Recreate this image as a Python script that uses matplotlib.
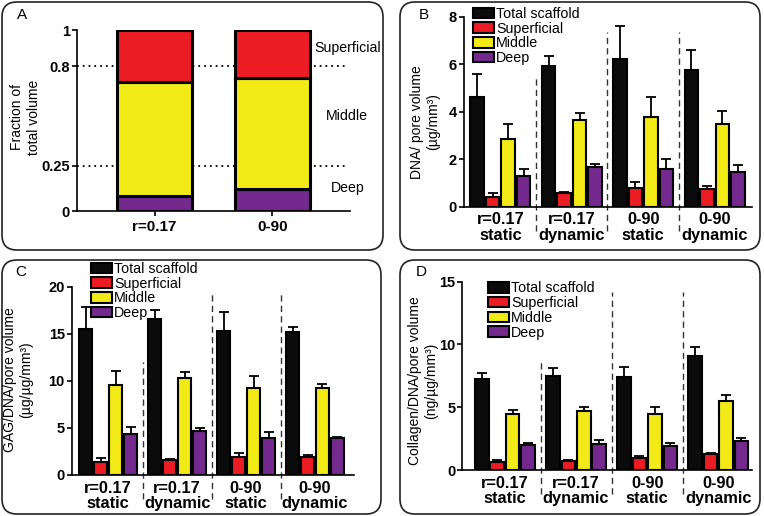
import numpy as np
import matplotlib.pyplot as plt
from matplotlib.patches import FancyBboxPatch
from matplotlib.transforms import blended_transform_factory

plt.rcParams['font.family'] = ['Liberation Sans', 'DejaVu Sans']

W, H = 764, 516

# ---- panel A: zone fractions ----
scaffolds = ['r=0.17', '0-90']
deep_top = [0.085, 0.12]
middle_top = [0.71, 0.735]
zone_names = ['Deep', 'Middle', 'Superficial']
zone_bounds = [0.25, 0.8]
frac_ticks = [0, 0.25, 0.8, 1]
frac_ticklabels = ['0', '0.25', '0.8', '1']

# ---- panels B-D: rows = series, cols = conditions ----
series = ['Total scaffold', 'Superficial', 'Middle', 'Deep']
conditions = ['r=0.17\nstatic', 'r=0.17\ndynamic', '0-90\nstatic', '0-90\ndynamic']

dna_mean = [[4.63, 5.92, 6.22, 5.77],
            [0.42, 0.56, 0.80, 0.74],
            [2.85, 3.65, 3.78, 3.49],
            [1.29, 1.66, 1.59, 1.47]]
dna_err = [[0.96, 0.42, 1.38, 0.84],
           [0.17, 0.07, 0.22, 0.14],
           [0.62, 0.28, 0.84, 0.54],
           [0.31, 0.14, 0.40, 0.27]]

gag_mean = [[15.5, 16.57, 15.33, 15.22],
            [1.42, 1.56, 1.95, 1.95],
            [9.56, 10.27, 9.27, 9.20],
            [4.32, 4.67, 3.96, 3.89]]
gag_err = [[2.30, 0.95, 1.94, 0.53],
           [0.35, 0.14, 0.35, 0.17],
           [1.48, 0.63, 1.28, 0.43],
           [0.74, 0.29, 0.57, 0.18]]

col_mean = [[7.22, 7.51, 7.43, 9.08],
            [0.66, 0.72, 0.98, 1.25],
            [4.43, 4.67, 4.49, 5.52],
            [1.99, 2.10, 1.91, 2.34]]
col_err = [[0.48, 0.59, 0.77, 0.74],
           [0.14, 0.08, 0.13, 0.10],
           [0.35, 0.37, 0.50, 0.45],
           [0.19, 0.26, 0.21, 0.21]]

colors = ['#0b0b0b', '#ec1c24', '#f2ea17', '#73298e']
zone_colors = ['#73298e', '#f2ea17', '#ec1c24']

fig = plt.figure(figsize=(W / 100, H / 100), dpi=100)


def add_axes_px(left, top, right, bottom):
    return fig.add_axes([left / W, 1 - bottom / H, (right - left) / W, (bottom - top) / H])


def panel_box(x0, y0, x1, y1):
    box = FancyBboxPatch((x0 / 100, (H - y1) / 100), (x1 - x0) / 100, (y1 - y0) / 100,
                         boxstyle='round,pad=0,rounding_size=0.15',
                         transform=fig.dpi_scale_trans, fill=False, lw=1.2, ec='#222222',
                         zorder=0)
    fig.add_artist(box)


def style_axes(ax):
    for s in ['top', 'right']:
        ax.spines[s].set_visible(False)
    for s in ['left', 'bottom']:
        ax.spines[s].set_linewidth(1.2)
    ax.tick_params(axis='y', direction='out', length=3.5, width=1.2, labelsize=10.5, pad=1.5)


# panel outlines and letters
panel_box(2, 2, 383, 250)
panel_box(400, 2, 760, 250)
panel_box(2, 260, 381, 514)
panel_box(400, 260, 760, 514)
for letter, px, py in [('A', 22, 15), ('B', 424, 15), ('C', 21, 272), ('D', 421, 272)]:
    fig.text(px / W, 1 - py / H, letter, fontsize=11, ha='center', va='center')

# ---- panel A ----
axA = add_axes_px(77, 30, 350, 211)
xa = np.arange(len(scaffolds))
deep = np.array(deep_top)
mid = np.array(middle_top)
axA.bar(xa, deep, width=0.64, color=zone_colors[0], edgecolor='k', lw=2.2, zorder=2)
axA.bar(xa, mid - deep, bottom=deep, width=0.64, color=zone_colors[1], edgecolor='k', lw=2.2, zorder=2)
axA.bar(xa, 1 - mid, bottom=mid, width=0.64, color=zone_colors[2], edgecolor='k', lw=2.2, zorder=2)
for b in zone_bounds:
    axA.axhline(b, xmax=0.99, ls=(0, (1, 2.2)), color='k', lw=1.3, zorder=0)
axA.set_xlim(-0.66, 1.66)
axA.set_ylim(0, 1)
style_axes(axA)
axA.set_yticks(frac_ticks)
axA.set_yticklabels(frac_ticklabels, fontweight='bold')
axA.set_xticks(xa)
axA.set_xticklabels(scaffolds, fontweight='bold', fontsize=11)
axA.tick_params(axis='x', direction='out', length=3.5, width=1.2, pad=3)
edges = [0] + zone_bounds + [1]
trA = blended_transform_factory(axA.transAxes, axA.transData)
for name, lo, hi in zip(zone_names, edges[:-1], edges[1:]):
    axA.text(0.99, (lo + hi) / 2, name, transform=trA, fontsize=10.2,
             ha='center', va='center', clip_on=False)
fig.text(25.5 / W, 1 - 117 / H, 'Fraction of\ntotal volume', rotation=90,
         fontsize=10, ha='center', va='center', multialignment='center')


# ---- panels B-D ----
def bar_panel(rect, means, errs, ylim, yticks, ylabel, label_xy, legend_xy, divider_tops):
    ax = add_axes_px(*rect)
    x = np.arange(len(conditions))
    step, width = 0.217, 0.19
    for i, (name, m, e) in enumerate(zip(series, means, errs)):
        pos = x + (i - 1.5) * step
        ax.bar(pos, m, width=width, color=colors[i], edgecolor='k', lw=1.5,
               label=name, zorder=2)
        ax.errorbar(pos, m, yerr=[np.zeros(len(e)), e], fmt='none', ecolor='k',
                    elinewidth=1.3, capsize=3.5, capthick=1.3, zorder=1)
    trans = ax.get_xaxis_transform()
    for k, top in enumerate(divider_tops):
        ax.plot([k + 0.5, k + 0.5], [-0.13, top], transform=trans, clip_on=False,
                color='#333333', lw=1.0, ls=(0, (4.5, 3)), zorder=0)
    ax.set_ylim(*ylim)
    style_axes(ax)
    ax.set_yticks(yticks)
    ax.set_yticklabels([str(t) for t in yticks], fontweight='bold')
    ax.set_xticks(x)
    ax.set_xticklabels(conditions, fontweight='bold', fontsize=11.8, linespacing=1.05)
    ax.tick_params(axis='x', length=0, pad=4)
    fig.text(label_xy[0] / W, 1 - label_xy[1] / H, ylabel, rotation=90, fontsize=10,
             ha='center', va='center', multialignment='center')
    ax.legend(loc='upper left', bbox_to_anchor=(legend_xy[0] / W, 1 - legend_xy[1] / H),
              bbox_transform=fig.transFigure, frameon=False, borderpad=0,
              borderaxespad=0, fontsize=10.3, handlelength=1.45, handleheight=0.75,
              handletextpad=0.15, labelspacing=0.05)
    return ax


axB = bar_panel((464, 16.7, 751.7, 206.7), dna_mean, dna_err, (0, 8), [0, 2, 4, 6, 8],
                'DNA/ pore volume\n(µg/mm³)', (425.5, 122), (473, 7), [0.675, 0.92, 0.92])
axB.set_xlim(-0.51, 3.52)

axC = bar_panel((71.7, 286.7, 354.3, 475), gag_mean, gag_err, (0, 20), [0, 5, 10, 15, 20],
                'GAG/DNA/pore volume\n(µg/µg/mm³)', (18, 380), (91, 262), [0.6, 0.965, 0.965])
axC.set_xlim(-0.53, 3.57)

axD = bar_panel((462.3, 281.7, 751.7, 470), col_mean, col_err, (0, 15), [0, 5, 10, 15],
                'Collagen/DNA/pore volume\n(ng/µg/mm³)', (423.5, 381), (488, 281.5), [0.584, 0.947, 0.947])
axD.set_xlim(-0.6, 3.47)

fig.savefig('out.png', dpi=100)
